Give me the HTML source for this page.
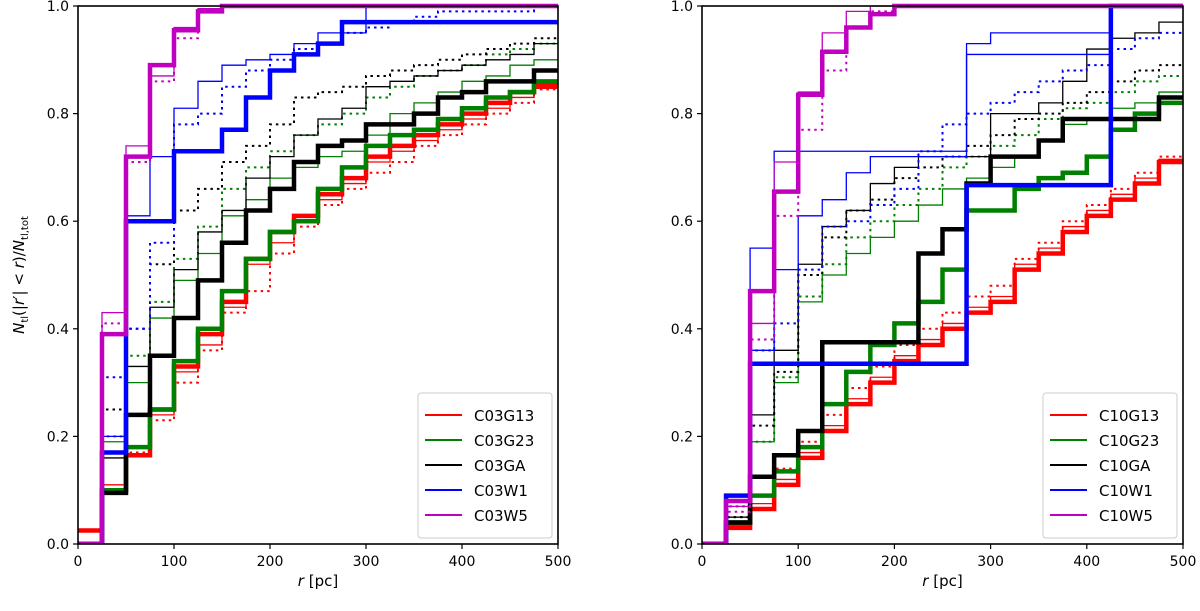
<!DOCTYPE html>
<html><head><meta charset="utf-8"><style>
body{margin:0;background:#fff}
svg text{font-family:"DejaVu Sans","Liberation Sans",sans-serif;fill:#000}
</style></head><body>
<svg id="fig" width="1200" height="606" viewBox="0 0 1200 606" xmlns="http://www.w3.org/2000/svg"></svg>
<script>
const binEdges=[0,25,50,75,100,125,150,175,200,225,250,275,300,325,350,375,400,425,450,475,500];
const xTicks=[0,100,200,300,400,500];
const yTicks=[0.0,0.2,0.4,0.6,0.8,1.0];
// Left panel (C03)
const L_red_thick=[0.025,0.10,0.165,0.25,0.33,0.39,0.45,0.53,0.58,0.61,0.65,0.68,0.72,0.74,0.76,0.78,0.80,0.82,0.84,0.85];
const L_red_thin=[0,0.11,0.18,0.24,0.32,0.37,0.44,0.52,0.56,0.60,0.64,0.67,0.71,0.73,0.75,0.77,0.79,0.81,0.83,0.855];
const L_red_dot=[0,0.10,0.17,0.23,0.30,0.36,0.43,0.47,0.54,0.59,0.63,0.66,0.69,0.71,0.74,0.76,0.78,0.80,0.82,0.845];
const L_green_thick=[0,0.10,0.18,0.25,0.34,0.40,0.47,0.53,0.58,0.60,0.66,0.70,0.74,0.76,0.77,0.79,0.81,0.83,0.84,0.86];
const L_green_thin=[0,0.19,0.30,0.42,0.49,0.54,0.61,0.64,0.68,0.70,0.72,0.73,0.76,0.80,0.82,0.84,0.86,0.87,0.89,0.90];
const L_green_dot=[0,0.20,0.35,0.45,0.53,0.59,0.66,0.70,0.73,0.76,0.78,0.80,0.83,0.85,0.87,0.88,0.89,0.91,0.92,0.93];
const L_black_thick=[0,0.095,0.24,0.35,0.42,0.49,0.56,0.62,0.66,0.71,0.74,0.75,0.78,0.78,0.80,0.83,0.84,0.86,0.86,0.88];
const L_black_thin=[0,0.16,0.33,0.44,0.51,0.58,0.62,0.68,0.72,0.76,0.79,0.81,0.85,0.86,0.87,0.88,0.89,0.90,0.91,0.93];
const L_black_dot=[0,0.25,0.40,0.52,0.62,0.66,0.71,0.74,0.78,0.83,0.84,0.85,0.87,0.88,0.89,0.90,0.91,0.92,0.93,0.94];
const L_blue_thick=[0,0.17,0.60,0.60,0.73,0.73,0.77,0.83,0.88,0.91,0.93,0.97,0.97,0.97,0.97,0.97,0.97,0.97,0.97,0.97];
const L_blue_thin=[0,0.20,0.61,0.72,0.81,0.86,0.89,0.90,0.91,0.93,0.95,0.95,1,1,1,1,1,1,1,1];
const L_blue_dot=[0,0.31,0.40,0.56,0.78,0.80,0.85,0.88,0.90,0.92,0.93,0.95,0.96,0.97,0.98,0.99,0.99,0.99,0.99,1.0];
const L_mag_thick=[0,0.39,0.72,0.89,0.955,0.99,1,1,1,1,1,1,1,1,1,1,1,1,1,1];
const L_mag_thin=[0,0.43,0.74,0.87,0.96,0.995,1,1,1,1,1,1,1,1,1,1,1,1,1,1];
const L_mag_dot=[0,0.41,0.71,0.86,0.94,0.99,1,1,1,1,1,1,1,1,1,1,1,1,1,1];
// Right panel (C10)
const R_red_thick=[0,0.03,0.065,0.11,0.16,0.21,0.26,0.30,0.34,0.37,0.40,0.43,0.45,0.51,0.54,0.58,0.61,0.64,0.67,0.71];
const R_red_thin=[0,0.035,0.075,0.12,0.17,0.22,0.27,0.31,0.35,0.38,0.41,0.44,0.46,0.52,0.55,0.59,0.62,0.65,0.68,0.715];
const R_red_dot=[0,0.04,0.09,0.14,0.19,0.24,0.29,0.33,0.37,0.40,0.43,0.46,0.48,0.53,0.56,0.60,0.63,0.66,0.69,0.72];
const R_green_thick=[0,0.04,0.09,0.135,0.18,0.26,0.32,0.37,0.41,0.45,0.51,0.62,0.62,0.66,0.68,0.69,0.72,0.77,0.80,0.82];
const R_green_thin=[0,0.05,0.19,0.30,0.45,0.50,0.54,0.57,0.60,0.63,0.66,0.68,0.70,0.72,0.75,0.78,0.79,0.81,0.82,0.84];
const R_green_dot=[0,0.05,0.19,0.31,0.46,0.52,0.57,0.60,0.63,0.66,0.70,0.72,0.74,0.76,0.79,0.81,0.82,0.84,0.86,0.87];
const R_black_thick=[0,0.04,0.125,0.165,0.21,0.375,0.375,0.375,0.375,0.54,0.585,0.67,0.72,0.72,0.75,0.79,0.79,0.79,0.79,0.83];
const R_black_thin=[0,0.05,0.24,0.36,0.52,0.59,0.62,0.67,0.70,0.72,0.72,0.72,0.80,0.80,0.82,0.86,0.92,0.94,0.95,0.97];
const R_black_dot=[0,0.05,0.22,0.32,0.50,0.57,0.62,0.64,0.68,0.70,0.72,0.74,0.76,0.79,0.80,0.82,0.84,0.86,0.88,0.89];
const R_blue_thick=[0,0.09,0.335,0.335,0.335,0.335,0.335,0.335,0.335,0.335,0.335,0.667,0.667,0.667,0.667,0.667,0.667,1,1,1];
const R_blue_thin=[0,0.09,0.55,0.73,0.73,0.73,0.73,0.73,0.73,0.73,0.73,0.91,0.91,0.91,0.91,0.91,0.91,1,1,1];
const R_blue_thin2=[0,0.08,0.36,0.51,0.61,0.64,0.69,0.72,0.72,0.72,0.72,0.93,0.95,0.95,0.95,0.95,0.95,1,1,1];
const R_blue_dot=[0,0.07,0.36,0.41,0.51,0.59,0.60,0.63,0.66,0.73,0.78,0.80,0.82,0.84,0.86,0.88,0.89,0.92,0.94,0.95];
const R_mag_thick=[0,0.08,0.47,0.655,0.835,0.915,0.96,0.985,1,1,1,1,1,1,1,1,1,1,1,1];
const R_mag_thin=[0,0.07,0.41,0.71,0.84,0.95,0.99,1,1,1,1,1,1,1,1,1,1,1,1,1];
const R_mag_dot=[0,0.06,0.38,0.61,0.77,0.88,0.96,0.99,1,1,1,1,1,1,1,1,1,1,1,1];

const legendL=["C03G13","C03G23","C03GA","C03W1","C03W5"];
const legendR=["C10G13","C10G23","C10GA","C10W1","C10W5"];
const colors={red:"#ff0000",green:"#008000",black:"#000000",blue:"#0000ff",mag:"#bf00bf"};

const NS="http://www.w3.org/2000/svg";
const svg=document.getElementById('fig');
function mk(tag,attrs,parent){const e=document.createElementNS(NS,tag);for(const k in attrs)e.setAttribute(k,attrs[k]);(parent||svg).appendChild(e);return e;}

function panel(x0,x1,y0,y1,series,legend,name,showYLabel){
  const g=mk('g',{});
  
  
  const xs=v=>x0+(v/500)*(x1-x0);
  const ys=v=>y1-v*(y1-y0);
  const clipId='clip-'+name;
  const cp=mk('clipPath',{id:clipId},g);mk('rect',{x:x0,y:y0-3,width:x1-x0,height:y1-y0+3},cp);
  const pg=mk('g',{'clip-path':'url(#'+clipId+')'},g);
  series.forEach(s=>{
    let d='M'+xs(binEdges[0])+','+ys(s.vals[0]);
    for(let i=0;i<s.vals.length;i++){
      d+=' L'+xs(binEdges[i])+','+ys(s.vals[i])+' L'+xs(binEdges[i+1])+','+ys(s.vals[i]);
    }
    const p=mk('path',{d:d,fill:'none',stroke:colors[s.c],'stroke-width':s.w,'stroke-linejoin':'miter'},pg);
    if(s.dash)p.setAttribute('stroke-dasharray',s.dash);
    
    
  });
  const fr=mk('rect',{x:x0,y:y0,width:x1-x0,height:y1-y0,fill:'none',stroke:'#000','stroke-width':1.6},g);
  
  
  xTicks.forEach(t=>{
    mk('line',{x1:xs(t),x2:xs(t),y1:y1,y2:y1+5,stroke:'#000','stroke-width':1.2},g);
    const tx=mk('text',{x:xs(t),y:y1+22,'text-anchor':'middle','font-size':14},g);tx.textContent=t;
    
    
  });
  yTicks.forEach(t=>{
    mk('line',{x1:x0-5,x2:x0,y1:ys(t),y2:ys(t),stroke:'#000','stroke-width':1.2},g);
    const tx=mk('text',{x:x0-9,y:ys(t)+5,'text-anchor':'end','font-size':14},g);tx.textContent=t.toFixed(1);
    
    
  });
  const xl=mk('text',{x:(x0+x1)/2,y:y1+42,'text-anchor':'middle','font-size':15,'font-family':'Liberation Serif, serif'},g);
  xl.innerHTML='<tspan font-style="italic">r</tspan> [pc]';
  
  
  if(showYLabel){
    const yl=mk('text',{x:0,y:0,'text-anchor':'middle','font-size':15,'font-family':'Liberation Serif, serif',transform:'translate(24,'+((y0+y1)/2)+') rotate(-90)'},g);
    yl.innerHTML='<tspan font-style="italic">N</tspan><tspan font-size="10" dy="4">tl</tspan><tspan dy="-4">(|</tspan><tspan font-style="italic">r</tspan>′| &lt; <tspan font-style="italic">r</tspan>)/<tspan font-style="italic">N</tspan><tspan font-size="10" dy="4">tl,tot</tspan>';
    
    
  }
  // legend
  const lx=x1-140, ly=y1-151;
  const lg=mk('g',{},g);
  
  
  mk('rect',{x:lx,y:ly,width:134,height:145,rx:3,fill:'#fff','fill-opacity':0.85,stroke:'#ccc'},lg);
  const cl=['red','green','black','blue','mag'];
  legend.forEach((lab,i)=>{
    const yy=ly+22+i*25;
    const ln=mk('line',{x1:lx+7,x2:lx+44,y1:yy,y2:yy,stroke:colors[cl[i]],'stroke-width':2},lg);
    
    
    const t=mk('text',{x:lx+56,y:yy+6,'font-size':15},lg);t.textContent=lab;
    
    
  });
}

const TH=4.5,TN=1.3,DS='2.5,4';
panel(78,558,6,544,[
  {name:'c03g13-thin',c:'red',w:TN,vals:L_red_thin},{name:'c03g13-dotted',c:'red',w:2,dash:DS,vals:L_red_dot},{name:'c03g13-thick',c:'red',w:TH,vals:L_red_thick},
  {name:'c03g23-thin',c:'green',w:TN,vals:L_green_thin},{name:'c03g23-dotted',c:'green',w:2,dash:DS,vals:L_green_dot},{name:'c03g23-thick',c:'green',w:TH,vals:L_green_thick},
  {name:'c03ga-thin',c:'black',w:TN,vals:L_black_thin},{name:'c03ga-dotted',c:'black',w:2,dash:DS,vals:L_black_dot},{name:'c03ga-thick',c:'black',w:TH,vals:L_black_thick},
  {name:'c03w1-thin',c:'blue',w:TN,vals:L_blue_thin},{name:'c03w1-dotted',c:'blue',w:2,dash:DS,vals:L_blue_dot},{name:'c03w1-thick',c:'blue',w:TH,vals:L_blue_thick},
  {name:'c03w5-thin',c:'mag',w:TN,vals:L_mag_thin},{name:'c03w5-dotted',c:'mag',w:2,dash:DS,vals:L_mag_dot},{name:'c03w5-thick',c:'mag',w:TH,vals:L_mag_thick}
],legendL,'left-panel',true);
panel(702,1183,6,544,[
  {name:'c10g13-thin',c:'red',w:TN,vals:R_red_thin},{name:'c10g13-dotted',c:'red',w:2,dash:DS,vals:R_red_dot},{name:'c10g13-thick',c:'red',w:TH,vals:R_red_thick},
  {name:'c10g23-thin',c:'green',w:TN,vals:R_green_thin},{name:'c10g23-dotted',c:'green',w:2,dash:DS,vals:R_green_dot},{name:'c10g23-thick',c:'green',w:TH,vals:R_green_thick},
  {name:'c10ga-thin',c:'black',w:TN,vals:R_black_thin},{name:'c10ga-dotted',c:'black',w:2,dash:DS,vals:R_black_dot},{name:'c10ga-thick',c:'black',w:TH,vals:R_black_thick},
  {name:'c10w1-thin',c:'blue',w:TN,vals:R_blue_thin},{name:'c10w1-thin-2',c:'blue',w:TN,vals:R_blue_thin2},{name:'c10w1-dotted',c:'blue',w:2,dash:DS,vals:R_blue_dot},{name:'c10w1-thick',c:'blue',w:TH,vals:R_blue_thick},
  {name:'c10w5-thin',c:'mag',w:TN,vals:R_mag_thin},{name:'c10w5-dotted',c:'mag',w:2,dash:DS,vals:R_mag_dot},{name:'c10w5-thick',c:'mag',w:TH,vals:R_mag_thick}
],legendR,'right-panel',false);
</script>
</body></html>
